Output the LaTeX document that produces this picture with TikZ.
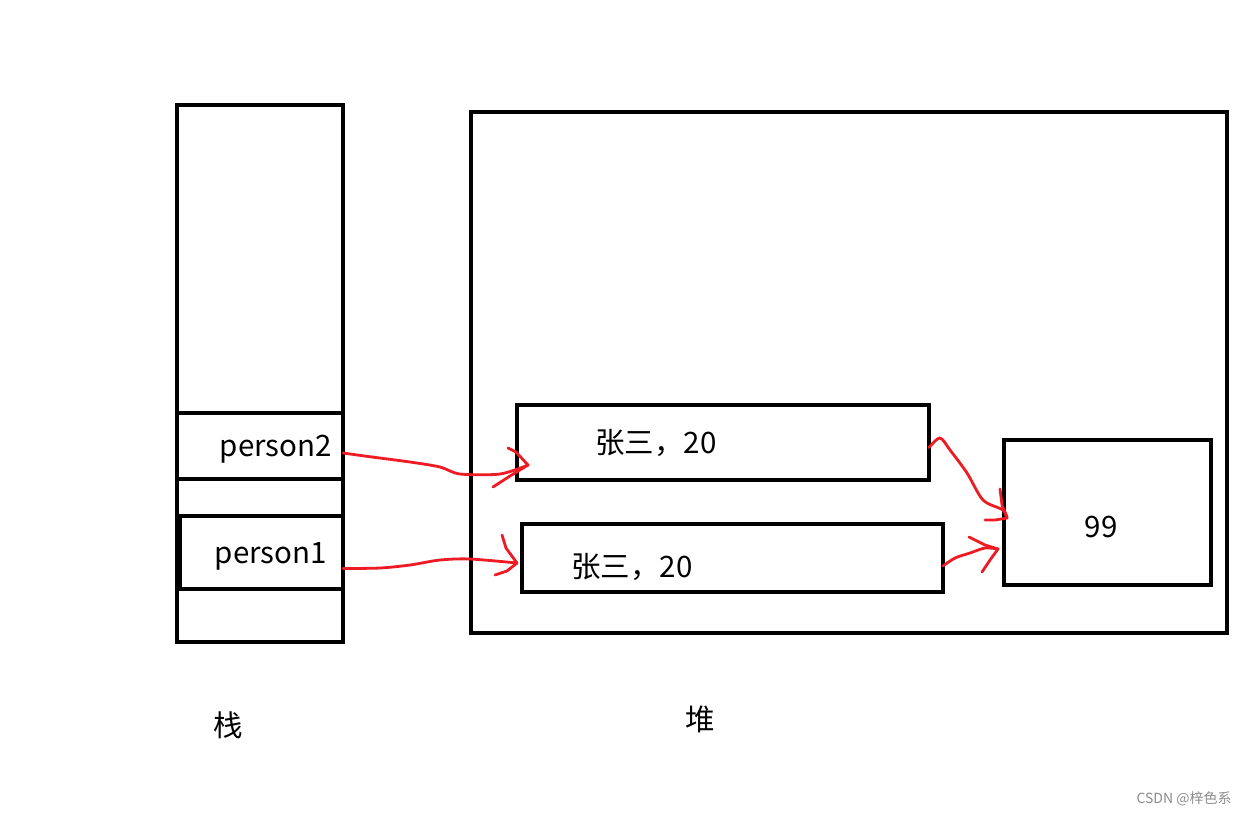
\documentclass[tikz,border=0pt]{standalone}
\usepackage{fontspec}
\setmainfont{Noto Sans CJK SC}
\definecolor{penred}{RGB}{237,28,36}
\begin{document}
\begin{tikzpicture}[x=1pt,y=-1pt,
  box/.style={draw=black,line width=4pt,inner sep=0pt,outer sep=0pt,rectangle},
  txt/.style={inner sep=0pt,font=\fontsize{29.5}{32}\selectfont},
  hand/.style={draw=penred,line width=2.8pt,line cap=round,line join=round}]
\useasboundingbox[fill=white] (0,0) rectangle (1249,815);
% stack
\node[box,minimum width=166pt,minimum height=537pt] (stack) at (260,373.5) {};
\node[box,minimum width=166pt,minimum height=66pt] (p2) at (260,446) {};
\node[box,minimum width=163pt,minimum height=73pt] (p1) at (261.5,552.5) {};
\node[txt] (p2t) at (276,449) {person2};
\node[txt] (p1t) at (271,556) {person1};
\node[txt] (zhan) at (228,725) {栈};
% heap
\node[box,minimum width=756pt,minimum height=521pt] (heap) at (849,372.5) {};
\node[box,minimum width=412pt,minimum height=75pt] (b1) at (723,442.5) {};
\node[box,minimum width=421pt,minimum height=68pt] (b2) at (732.5,558) {};
\node[box,minimum width=207pt,minimum height=145pt] (b99) at (1107.5,512.5) {};
\node[txt] (b1t) at (656,443) {张三，20};
\node[txt] (b2t) at (632,567) {张三，20};
\node[txt] (n99) at (1101,527) {99};
\node[txt] (dui) at (700,719) {堆};
\node[inner sep=0pt,text=black!45,font=\fontsize{14}{16}\selectfont] (wm) at (1184,799) {CSDN @梓色系};
% red hand-drawn arrows
\coordinate (t1) at (528,465);
\coordinate (t2) at (517,563);
\coordinate (t3) at (1007,518);
\coordinate (t4) at (998,549);
\draw[hand] plot[smooth,tension=0.5] coordinates {([yshift=-7pt]p2.east) (372,457) (410,462) (440,467) (460,474) (500,474) (t1)};
\draw[hand] (508,448) -- (516,452) -- (t1) -- (510,476) -- (493,487);
\draw[hand] plot[smooth,tension=0.5] coordinates {([yshift=-16pt]p1.east) (380,568) (410,565) (440,560) (470,559) (t2)};
\draw[hand] (502,535) -- (506,548) -- (t2) -- (507,571) -- (495,575);
\draw[hand] plot[smooth,tension=0.5] coordinates {([yshift=-5pt]b1.east) (940,438) (950,450) (967,473) (983,500) (1003,510) (t3)};
\draw[hand] (1000,489) -- (1002,505) -- (t3) -- (995,520) -- (985,520);
\draw[hand] plot[smooth,tension=0.5] coordinates {([yshift=-8pt]b2.east) (955,558) (970,553) (985,548) (t4)};
\draw[hand] (969,537) -- (985,545) -- (t4) -- (990,560) -- (982,572);
\end{tikzpicture}
\end{document}
